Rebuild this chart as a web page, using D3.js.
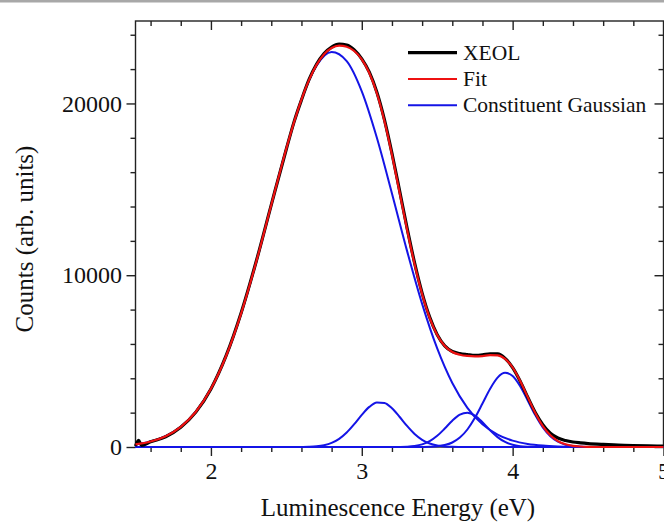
<!DOCTYPE html>
<html>
<head>
<meta charset="utf-8">
<script src="https://cdn.jsdelivr.net/npm/d3@7"></script>
<style>
  html, body { margin: 0; padding: 0; background: #fff; }
  svg { display: block; }
</style>
</head>
<body>
<div id="chart"></div>
<script>
// --- Daten ---
const energyRange = [1.5, 5.0];
const countRange = [0, 24800];
const xMajorTicks = [2, 3, 4, 5];
const yMajorTicks = [0, 10000, 20000];

// gemessenes Spektrum (XEOL)
const xeolEnergy = [1.50, 1.52, 1.54, 1.6, 1.7, 1.8, 1.9, 2.0, 2.1, 2.2, 2.3, 2.4, 2.5, 2.55, 2.6, 2.65, 2.7, 2.75, 2.8, 2.85, 2.9, 2.95, 3.0, 3.05, 3.1, 3.15, 3.2, 3.25, 3.3, 3.35, 3.4, 3.45, 3.5, 3.55, 3.6, 3.65, 3.7, 3.75, 3.8, 3.85, 3.9, 3.95, 4.0, 4.05, 4.1, 4.15, 4.2, 4.25, 4.3, 4.35, 4.4, 4.45, 4.5, 4.6, 4.7, 4.8, 4.9, 5.0];
const xeolCounts = [60, 380, 90, 300, 600, 1150, 2030, 3380, 5300, 7800, 10800, 14100, 17350, 18900, 20200, 21380, 22280, 22900, 23280, 23450, 23400, 23120, 22600, 21820, 20650, 19060, 17100, 14950, 12760, 10720, 8960, 7560, 6540, 5890, 5560, 5440, 5380, 5330, 5360, 5430, 5420, 5160, 4620, 3830, 2900, 2010, 1300, 800, 520, 380, 290, 240, 200, 150, 115, 85, 65, 50];

// Fit
const fitEnergy = [1.5, 1.6, 1.7, 1.8, 1.9, 2.0, 2.1, 2.2, 2.3, 2.4, 2.5, 2.55, 2.6, 2.65, 2.7, 2.75, 2.8, 2.85, 2.9, 2.95, 3.0, 3.05, 3.1, 3.15, 3.2, 3.25, 3.3, 3.35, 3.4, 3.45, 3.5, 3.55, 3.6, 3.65, 3.7, 3.75, 3.8, 3.85, 3.9, 3.95, 4.0, 4.05, 4.1, 4.15, 4.2, 4.25, 4.3, 4.35, 4.4, 4.45, 4.5, 4.6, 5.0];
const fitCounts = [154, 321, 632, 1173, 2054, 3393, 5285, 7767, 10769, 14085, 17379, 18883, 20229, 21359, 22244, 22867, 23230, 23367, 23304, 23052, 22569, 21776, 20594, 18982, 17015, 14844, 12662, 10640, 8905, 7521, 6517, 5876, 5530, 5372, 5300, 5275, 5294, 5344, 5335, 5129, 4628, 3842, 2903, 1982, 1221, 679, 342, 158, 67, 28, 12, 1, 0];

// einzelne Gauss-Kurven
const gauss1Energy = [1.5, 1.6, 1.7, 1.8, 1.9, 2.0, 2.1, 2.2, 2.3, 2.4, 2.5, 2.6, 2.7, 2.8, 2.9, 3.0, 3.1, 3.2, 3.3, 3.4, 3.5, 3.6, 3.7, 3.8, 3.9, 4.0, 4.1, 4.2, 4.3, 4.4, 4.5, 4.6, 5.0];
const gauss1Counts = [154, 321, 632, 1173, 2054, 3393, 5285, 7767, 10769, 14085, 17379, 20224, 22202, 22993, 22462, 20700, 17998, 14759, 11417, 8331, 5736, 3724, 2282, 1318, 719, 370, 179, 82, 35, 14, 6, 2, 0];

const gauss2Energy = [1.5, 2.55, 2.6, 2.65, 2.7, 2.75, 2.8, 2.85, 2.9, 2.95, 3.0, 3.05, 3.1, 3.15, 3.2, 3.25, 3.3, 3.35, 3.4, 3.45, 3.5, 3.55, 3.6, 3.65, 3.7, 5.0];
const gauss2Counts = [0, 0, 5, 15, 42, 106, 237, 474, 842, 1330, 1869, 2335, 2596, 2565, 2255, 1762, 1225, 757, 417, 204, 89, 34, 12, 4, 0, 0];

const gauss3Energy = [1.5, 3.15, 3.2, 3.25, 3.3, 3.35, 3.4, 3.45, 3.5, 3.55, 3.6, 3.65, 3.7, 3.75, 3.8, 3.85, 3.9, 3.95, 4.0, 4.05, 4.1, 4.15, 4.2, 4.25, 5.0];
const gauss3Counts = [0, 0, 1, 6, 20, 59, 152, 339, 649, 1074, 1531, 1884, 1999, 1829, 1443, 982, 577, 292, 128, 48, 16, 4, 1, 0, 0];

const gauss4Energy = [1.5, 3.35, 3.4, 3.45, 3.5, 3.55, 3.6, 3.65, 3.7, 3.75, 3.8, 3.85, 3.9, 3.95, 4.0, 4.05, 4.1, 4.15, 4.2, 4.25, 4.3, 4.35, 4.4, 4.45, 4.5, 4.55, 4.6, 5.0];
const gauss4Counts = [0, 0, 5, 15, 43, 113, 263, 547, 1019, 1698, 2533, 3381, 4039, 4318, 4130, 3535, 2708, 1856, 1138, 625, 307, 135, 53, 19, 6, 2, 0, 0];

const legendLabels = ["XEOL", "Fit", "Constituent Gaussian"];

// --- Zeichenfläche ---
const width = 664, height = 522;
const plot = { left: 135.5, right: 663.5, top: 21, bottom: 447 };
const font = "'Liberation Serif', 'Times New Roman', serif";

const svg = d3.select("#chart")
  .append("svg")
  .attr("width", width)
  .attr("height", height);

// grauer Streifen oben
svg.append("rect")
  .attr("x", 0).attr("y", 0)
  .attr("width", width).attr("height", 2.5)
  .attr("fill", "#a8a8a8");

const x = d3.scaleLinear().domain(energyRange).range([plot.left, plot.right]);
const y = d3.scaleLinear().domain(countRange).range([plot.bottom, plot.top]);

const xMinor = d3.range(16, 51, 2).map(d => d / 10).filter(d => !xMajorTicks.includes(d));
const yMinor = d3.range(0, 24001, 2000).filter(d => !yMajorTicks.includes(d));

const axisColor = "#222";

function styleAxis(g) {
  g.select(".domain").remove();
  g.selectAll("line").attr("stroke", axisColor).attr("stroke-width", 1.4);
  g.attr("font-family", font).attr("font-size", 24);
  g.selectAll("text").attr("fill", "#111");
}

// Unten: Haupt- und Nebenstriche nach außen
svg.append("g")
  .attr("transform", `translate(0,${plot.bottom})`)
  .call(d3.axisBottom(x).tickValues(xMinor).tickSize(5).tickFormat(""))
  .call(styleAxis);
svg.append("g")
  .attr("transform", `translate(0,${plot.bottom})`)
  .call(d3.axisBottom(x).tickValues(xMajorTicks).tickSize(9).tickPadding(6).tickFormat(d3.format("d")))
  .call(styleAxis);

// Oben: Striche nach innen
svg.append("g")
  .attr("transform", `translate(0,${plot.top})`)
  .call(d3.axisBottom(x).tickValues(xMinor).tickSize(5).tickFormat(""))
  .call(styleAxis);
svg.append("g")
  .attr("transform", `translate(0,${plot.top})`)
  .call(d3.axisBottom(x).tickValues(xMajorTicks).tickSize(9).tickFormat(""))
  .call(styleAxis);

// Links: nach außen
svg.append("g")
  .attr("transform", `translate(${plot.left},0)`)
  .call(d3.axisLeft(y).tickValues(yMinor).tickSize(5).tickFormat(""))
  .call(styleAxis);
svg.append("g")
  .attr("transform", `translate(${plot.left},0)`)
  .call(d3.axisLeft(y).tickValues(yMajorTicks).tickSize(9).tickPadding(4.5).tickFormat(d3.format("d")))
  .call(styleAxis);

// Rechts: nach innen
svg.append("g")
  .attr("transform", `translate(${plot.right},0)`)
  .call(d3.axisLeft(y).tickValues(yMinor).tickSize(5).tickFormat(""))
  .call(styleAxis);
svg.append("g")
  .attr("transform", `translate(${plot.right},0)`)
  .call(d3.axisLeft(y).tickValues(yMajorTicks).tickSize(9).tickFormat(""))
  .call(styleAxis);

// Rahmen
svg.append("rect")
  .attr("x", plot.left).attr("y", plot.top)
  .attr("width", plot.right - plot.left).attr("height", plot.bottom - plot.top)
  .attr("fill", "none")
  .attr("stroke", axisColor)
  .attr("stroke-width", 1.4);

// --- Kurven ---
const line = d3.line()
  .x(d => x(d[0]))
  .y(d => y(d[1]))
  .curve(d3.curveMonotoneX);

const gaussians = [
  d3.zip(gauss1Energy, gauss1Counts),
  d3.zip(gauss2Energy, gauss2Counts),
  d3.zip(gauss3Energy, gauss3Counts),
  d3.zip(gauss4Energy, gauss4Counts)
];

svg.selectAll("path.gauss")
  .data(gaussians)
  .enter()
  .append("path")
  .attr("class", "gauss")
  .attr("d", line)
  .attr("fill", "none")
  .attr("stroke", "#1414e6")
  .attr("stroke-width", 2);

svg.append("path")
  .datum(d3.zip(xeolEnergy, xeolCounts))
  .attr("d", line)
  .attr("fill", "none")
  .attr("stroke", "#000")
  .attr("stroke-width", 3.2)
  .attr("stroke-linejoin", "round");

svg.append("path")
  .datum(d3.zip(fitEnergy, fitCounts))
  .attr("d", line)
  .attr("fill", "none")
  .attr("stroke", "#ee1111")
  .attr("stroke-width", 2.2);

// --- Legende ---
const legendColors = ["#000", "#ee1111", "#1414e6"];
const legendWidths = [3.2, 2.2, 2];
const legend = svg.append("g")
  .attr("font-family", font)
  .attr("font-size", 21.5);

legendLabels.forEach((label, i) => {
  const ly = 52.7 + i * 26.3;
  legend.append("line")
    .attr("x1", 408).attr("x2", 457)
    .attr("y1", ly).attr("y2", ly)
    .attr("stroke", legendColors[i])
    .attr("stroke-width", legendWidths[i]);
  legend.append("text")
    .attr("x", 463)
    .attr("y", ly + 6.8)
    .attr("fill", "#111")
    .text(label);
});

// --- Achsentitel ---
svg.append("text")
  .attr("x", (plot.left + plot.right) / 2 - 1.5)
  .attr("y", 516)
  .attr("text-anchor", "middle")
  .attr("font-family", font)
  .attr("font-size", 25)
  .attr("fill", "#111")
  .text("Luminescence Energy (eV)");

svg.append("text")
  .attr("transform", "translate(33,239) rotate(-90)")
  .attr("text-anchor", "middle")
  .attr("font-family", font)
  .attr("font-size", 25)
  .attr("fill", "#111")
  .text("Counts (arb. units)");
</script>
</body>
</html>
